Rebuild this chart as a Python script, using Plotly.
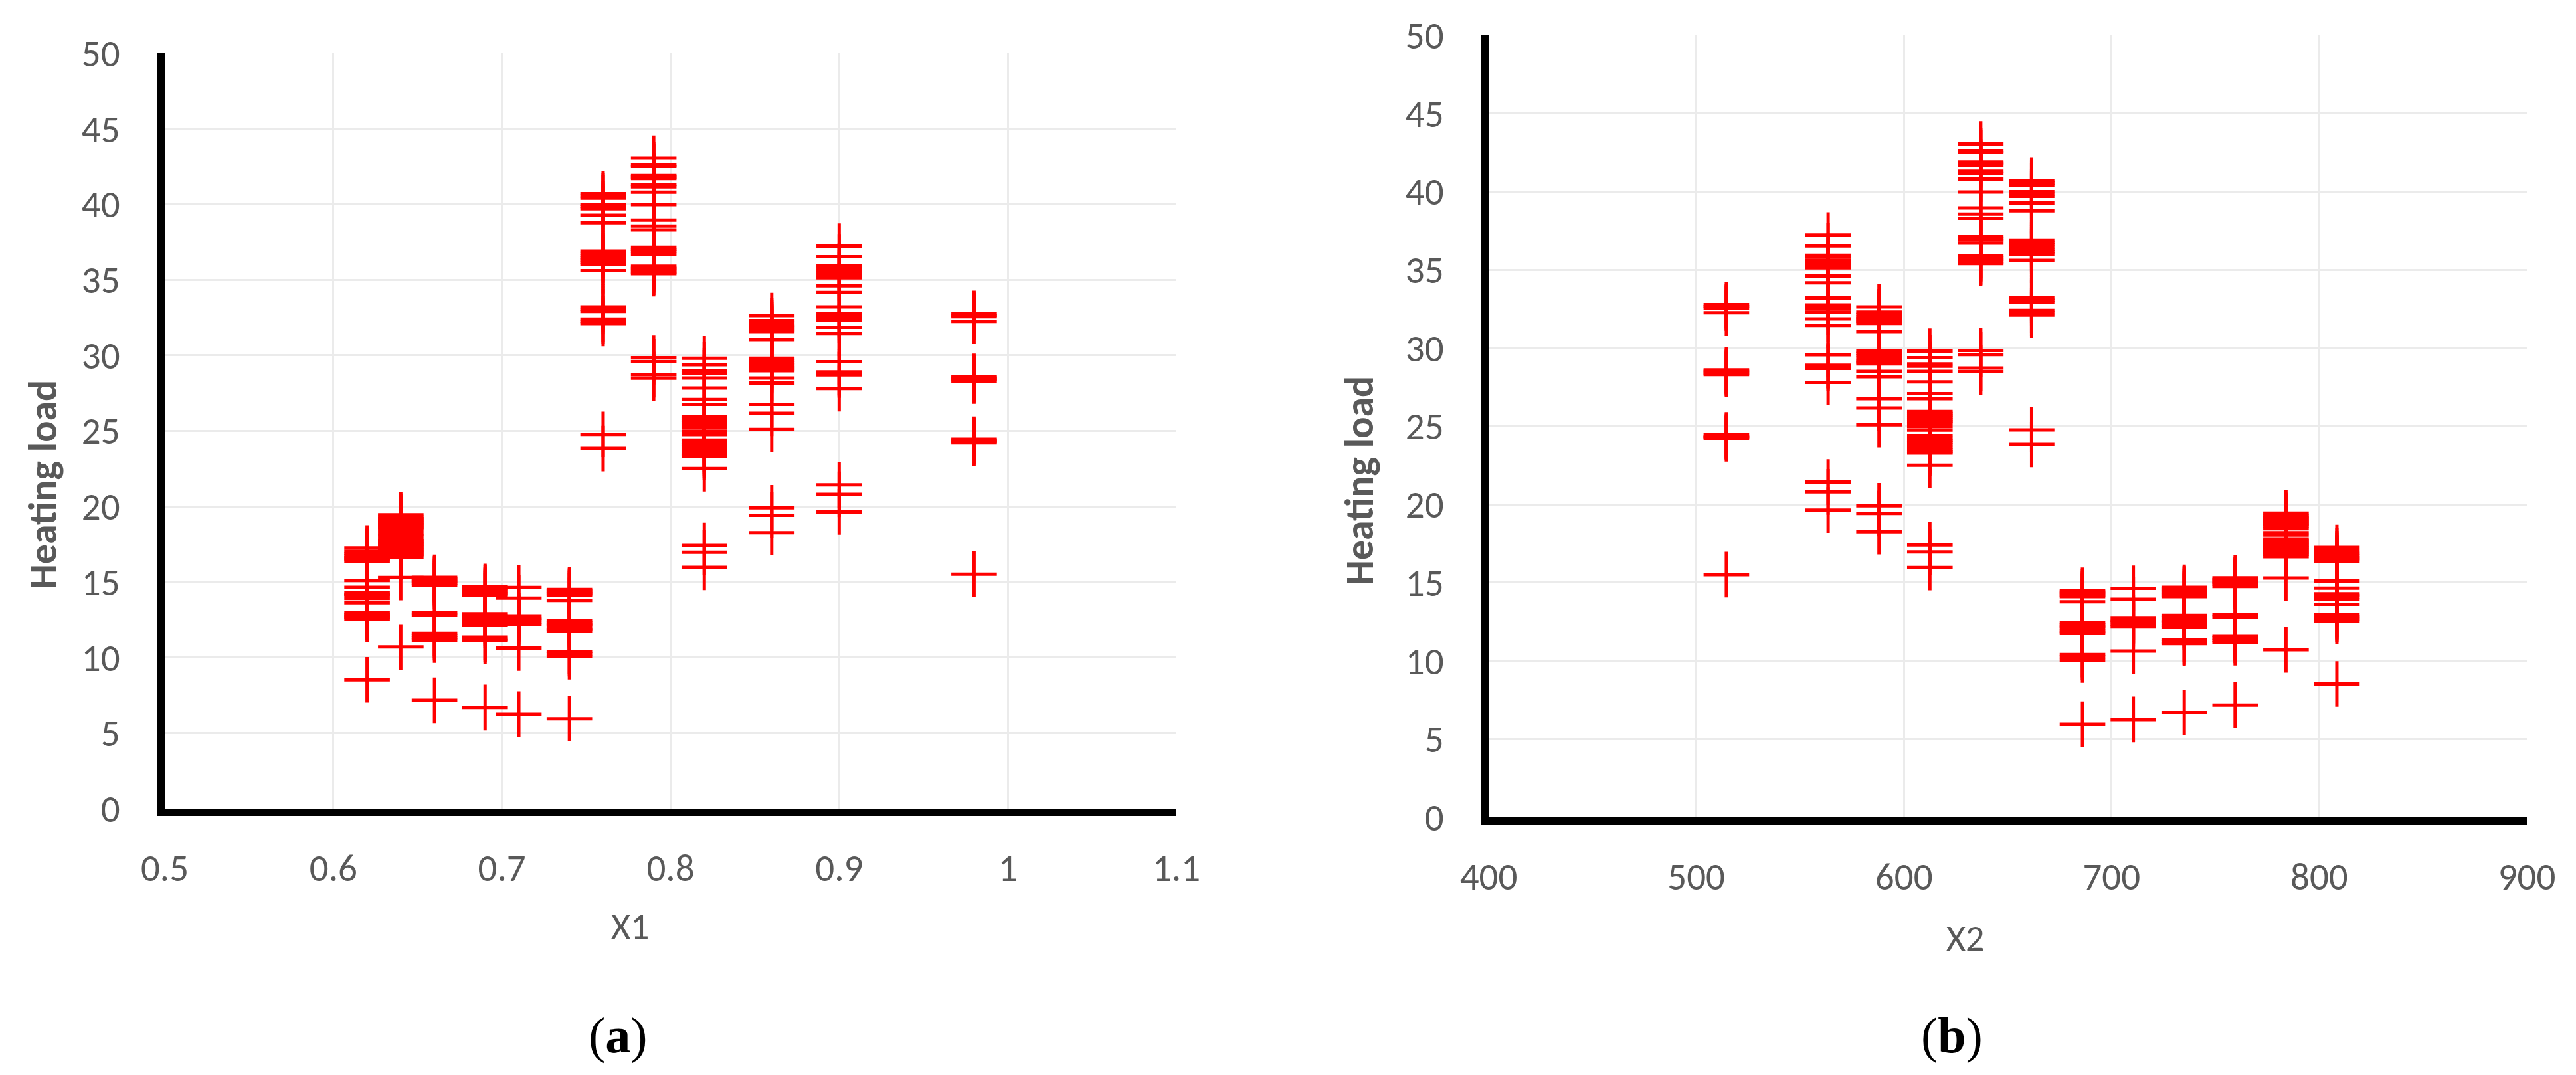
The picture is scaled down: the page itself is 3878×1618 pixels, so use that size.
import plotly.graph_objects as go
from plotly.subplots import make_subplots

# building groups: relative compactness (X1) and surface area (X2)
x1_groups = [0.62, 0.64, 0.66, 0.69, 0.71, 0.74, 0.76, 0.79, 0.82, 0.86, 0.90, 0.98]
x2_groups = [808.5, 784, 759.5, 735, 710.5, 686, 661.5, 637, 612.5, 588, 563.5, 514.5]

# heating load, one list per group
hl_062 = [17.25, 17.03, 16.85, 16.74, 16.6, 16.52, 16.38, 15.1, 14.64, 14.28, 14.18, 14.09,
          13.91, 13.62, 12.97, 12.85, 12.75, 12.65, 12.54, 8.52]
hl_064 = [19.45, 19.3, 19.2, 19.1, 19.0, 18.9, 18.8, 18.7, 18.6, 18.45, 18.19, 18.04,
          17.8, 17.7, 17.6, 17.5, 17.4, 17.3, 17.2, 17.1, 17.0, 16.9, 16.8, 16.65, 15.29, 10.7]
hl_066 = [15.3, 15.2, 15.1, 15.0, 14.9, 14.75, 12.97, 12.8, 11.6, 11.45, 11.3, 11.15, 7.17]
hl_069 = [14.7, 14.6, 14.5, 14.4, 14.3, 14.2, 14.1, 12.9, 12.75, 12.6, 12.5, 12.4, 12.25,
          12.15, 11.35, 11.2, 11.1, 6.69]
hl_071 = [14.63, 13.93, 12.75, 12.6, 12.5, 12.35, 12.2, 10.62, 6.25]
hl_074 = [14.5, 14.4, 14.3, 14.2, 14.1, 13.77, 12.45, 12.3, 12.2, 12.1, 11.95, 11.85,
          11.75, 10.4, 10.25, 10.05, 5.95]
hl_076 = [40.7, 40.55, 40.4, 40.0, 39.85, 39.7, 39.27, 38.77, 36.9, 36.75, 36.6, 36.45,
          36.3, 36.15, 36.0, 35.6, 33.2, 33.05, 32.9, 32.4, 32.25, 32.1, 24.77, 23.83]
hl_079 = [43.05, 42.6, 42.5, 41.9, 41.8, 41.7, 41.3, 41.15, 40.8, 39.97, 38.95, 38.56, 38.3,
          37.15, 37.0, 36.9, 36.7, 35.9, 35.75, 35.65, 35.5, 35.4, 29.84, 29.58, 28.72, 28.48]
hl_082 = [29.8, 29.38, 28.98, 28.83, 28.5, 27.84, 27.08, 26.76, 25.95, 25.82, 25.7, 25.58,
          25.45, 25.32, 25.2, 24.98, 24.76, 24.4, 24.25, 24.1, 23.95, 23.8, 23.65, 23.5,
          23.38, 23.28, 22.5, 17.41, 16.96, 15.96]
hl_086 = [32.63, 32.3, 32.15, 32.0, 31.9, 31.8, 31.7, 31.57, 31.05, 29.8, 29.65, 29.5,
          29.35, 29.2, 29.1, 28.98, 28.5, 28.17, 26.76, 26.17, 25.1, 19.91, 19.42, 18.26]
hl_090 = [37.22, 36.52, 35.93, 35.8, 35.6, 35.45, 35.3, 35.12, 34.6, 34.16, 33.2, 32.75,
          32.62, 32.5, 32.3, 31.86, 31.45, 29.57, 28.9, 28.8, 28.7, 27.8, 21.43, 20.8, 19.64]
hl_098 = [32.77, 32.65, 32.55, 32.25, 28.6, 28.5, 28.4, 28.3, 24.45, 24.35, 24.28, 24.2, 15.51]

hl_groups = [hl_062, hl_064, hl_066, hl_069, hl_071, hl_074,
             hl_076, hl_079, hl_082, hl_086, hl_090, hl_098]

x1, x2, hl = [], [], []
for a, b, ys in zip(x1_groups, x2_groups, hl_groups):
    x1 += [a] * len(ys)
    x2 += [b] * len(ys)
    hl += ys

W, H = 3878, 1618
fig = make_subplots(rows=1, cols=2)

mk = dict(symbol='cross-thin', size=49, color='#ff0000', line=dict(color='#ff0000', width=5))
fig.add_trace(go.Scatter(x=x1, y=hl, mode='markers', marker=mk), row=1, col=1)
fig.add_trace(go.Scatter(x=x2, y=hl, mode='markers', marker=mk), row=1, col=2)

tickfont = dict(family='Carlito, Calibri, Lato, sans-serif', size=57, color='#595959')
axcommon = dict(showline=True, linecolor='black', linewidth=11, showgrid=True,
                gridcolor='#ebebeb', gridwidth=3, zeroline=False, ticks='',
                tickfont=tickfont, mirror=False, automargin=False)

fig.update_xaxes(axcommon, ticklabelstandoff=30)
fig.update_yaxes(axcommon, range=[0, 50], dtick=5, tick0=0, ticklabelstandoff=45)
fig.update_xaxes(range=[0.5, 1.1], dtick=0.1, tick0=0.5, tickformat='~g', domain=[240 / W, 1763 / W], row=1, col=1)
fig.update_xaxes(range=[400, 900], dtick=100, tick0=400, domain=[2233 / W, 3796 / W], row=1, col=2)
fig.update_yaxes(domain=[1 - 1209 / H, 1 - 72 / H], row=1, col=1)
fig.update_yaxes(domain=[1 - 1222 / H, 1 - 45 / H], row=1, col=2)

titlefont = dict(family='Carlito, Calibri, Lato, sans-serif', size=60, color='#595959', weight='bold')
labfont = dict(family='Carlito, Calibri, Lato, sans-serif', size=56, color='#595959')
capfont = dict(family='Liberation Serif, Times New Roman, serif', size=76, color='black')
annots = [
    dict(x=56 / W, y=1 - 722 / H, text='Heating load', textangle=-90, font=titlefont),
    dict(x=2038 / W, y=1 - 716 / H, text='Heating load', textangle=-90, font=titlefont),
    dict(x=940 / W, y=1 - 1386 / H, text='X1', font=labfont),
    dict(x=2950 / W, y=1 - 1404 / H, text='X2', font=labfont),
    dict(x=922 / W, y=1 - 1550 / H, text='(<b>a</b>)', font=capfont),
    dict(x=2930 / W, y=1 - 1550 / H, text='(<b>b</b>)', font=capfont),
]
for a in annots:
    fig.add_annotation(a, xref='paper', yref='paper', showarrow=False, xanchor='center', yanchor='middle')

fig.update_layout(width=W, height=H, showlegend=False, plot_bgcolor='white', paper_bgcolor='white',
                  margin=dict(l=0, r=0, t=0, b=0))

fig.write_html("out.html")
